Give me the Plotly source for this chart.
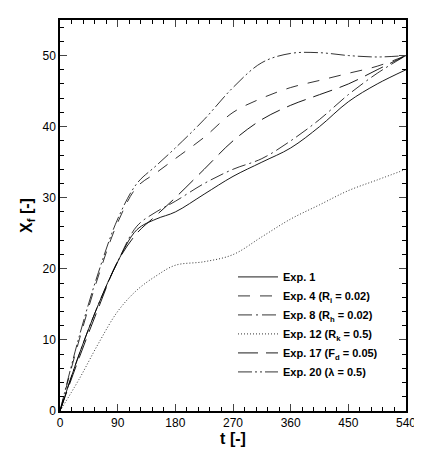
import plotly.graph_objects as go

t = [0, 30, 60, 90, 120, 150, 180, 225, 270, 315, 360, 405, 450, 495, 540]
exp1 = [0, 8, 15, 21, 25.5, 27, 28, 30.5, 33, 35, 37, 40, 43.5, 46, 48]
exp4 = [0, 10, 19, 26.5, 31.5, 33.5, 35.5, 38.5, 42, 44, 45.5, 46.5, 47.5, 48.5, 50]
exp8 = [0, 8, 15, 21, 26, 28, 29.5, 32, 34, 35.5, 38, 41, 44.5, 47.5, 50]
exp12 = [0, 4.5, 9.5, 14, 17, 19, 20.5, 21, 22, 24.5, 27, 29, 31, 32.5, 34]
exp17 = [0, 7.5, 14.5, 21, 25, 27.5, 30, 34, 38, 41, 43, 44.5, 46, 48, 50]
exp20 = [0, 10.5, 19.5, 27, 32, 34.5, 37, 41, 45.5, 49, 50.3, 50.4, 50, 49.8, 50]

series = [
    ("<b>Exp. 1</b>", exp1, "solid", 0.9),
    ("<b>Exp. 4 (R<sub>i</sub> = 0.02)</b>", exp4, "12px,10px", 0.8),
    ("<b>Exp. 8 (R<sub>h</sub> = 0.02)</b>", exp8, "14px,4px,2px,4px", 0.8),
    ("<b>Exp. 12 (R<sub>k</sub> = 0.5)</b>", exp12, "1px,2px", 0.8),
    ("<b>Exp. 17 (F<sub>d</sub> = 0.05)</b>", exp17, "20px,8px", 0.9),
    ("<b>Exp. 20 (λ = 0.5)</b>", exp20, "14px,3px,2px,3px,2px,3px", 0.8),
]

FONT = "Liberation Sans"

fig = go.Figure()
for name, y, dash, w in series:
    fig.add_trace(go.Scatter(x=t, y=y, mode="lines", name=name,
                             line=dict(color="black", width=w, dash=dash, shape="spline")))

axis_common = dict(showline=True, linecolor="black", linewidth=1.5, mirror="ticks",
                   ticks="inside", ticklen=7, tickwidth=1.2, showgrid=False, zeroline=False,
                   tickfont=dict(family=FONT, size=12, color="black"))
fig.update_xaxes(range=[0, 540], tickvals=[0, 90, 180, 270, 360, 450, 540],
                 minor=dict(ticks="inside", ticklen=4, dtick=18, tickcolor="black"),
                 title=dict(text="<b>t [-]</b>", font=dict(family=FONT, size=16, color="black"), standoff=4),
                 **axis_common)
fig.update_yaxes(range=[0, 55], tickvals=[0, 10, 20, 30, 40, 50],
                 minor=dict(ticks="inside", ticklen=4, dtick=2, tickcolor="black"),
                 title=dict(text="<b>X<sub>f</sub> [-]</b>", font=dict(family=FONT, size=16, color="black"), standoff=6),
                 **axis_common)
fig.update_layout(width=422, height=467, plot_bgcolor="white", paper_bgcolor="white",
                  font=dict(family=FONT, color="black"),
                  margin=dict(l=52, r=24, t=10, b=64),
                  legend=dict(x=0.5, y=0.38, xanchor="left", yanchor="top", bgcolor="rgba(0,0,0,0)",
                              font=dict(family=FONT, size=11, color="black"),
                              tracegroupgap=0, itemwidth=40))
fig.write_html("out.html")
